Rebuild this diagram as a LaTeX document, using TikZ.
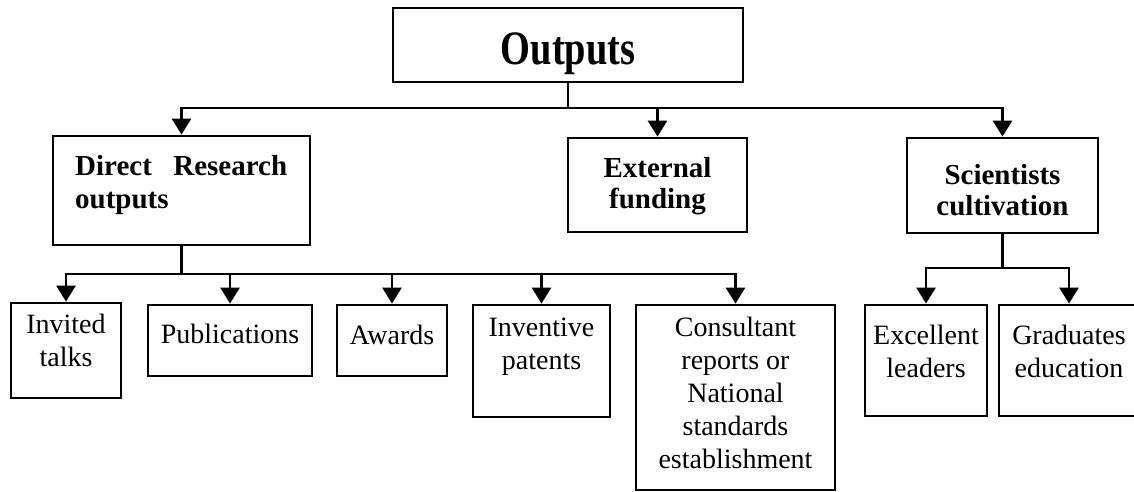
\documentclass[tikz,border=0pt]{standalone}
\usepackage{fontspec}
\setmainfont{Liberation Serif}
\newfontfamily\narrowserif[FakeStretch=0.8]{Liberation Serif}
\usetikzlibrary{arrows.meta}

\tikzset{
  box/.style={draw, line width=2.8pt, inner sep=0pt},
  link/.style={line width=2.8pt},
  arrowlink/.style={line width=2.8pt, -{Triangle[width=19pt,length=16pt]}},
  plaintext/.style={inner sep=0pt, align=center, font=\fontsize{28}{33}\selectfont},
  headtext/.style={inner sep=0pt, align=center, font=\fontsize{29}{31}\selectfont\bfseries},
}

\begin{document}
\begin{tikzpicture}[x=1pt, y=-1pt]
  \useasboundingbox (0,0) rectangle (1134,492);
  \clip (0,0) rectangle (1134,492);

  % top level
  \node[box, minimum width=350pt, minimum height=74pt] (out) at (568,45) {};
  \node[inner sep=0pt, anchor=base, font=\fontsize{48}{52}\narrowserif\bfseries] (out-t) at (568,65) {Outputs};

  % second level
  \node[box, minimum width=257pt, minimum height=109pt] (dir) at (181.5,190.5) {};
  \node[inner sep=0pt, anchor=north west, text width=212pt, align=left,
        font=\fontsize{29}{33}\selectfont\bfseries] (dir-t) at (75,155) {Direct\hfill Research\\outputs};

  \node[box, minimum width=179pt, minimum height=94pt] (ext) at (657.5,185) {};
  \node[headtext, anchor=north] (ext-t) at (657.5,157) {External\\funding};

  \node[box, minimum width=191pt, minimum height=95pt] (sci) at (1002.5,185.5) {};
  \node[headtext, anchor=north] (sci-t) at (1002.5,164) {Scientists\\cultivation};

  % third level under the research outputs
  \node[box, minimum width=110pt, minimum height=95pt] (inv) at (66,350.5) {};
  \node[plaintext, anchor=north] (inv-t) at (66,314) {Invited\\talks};

  \node[box, minimum width=164pt, minimum height=71pt] (pub) at (230,340.5) {};
  \node[plaintext, anchor=north] (pub-t) at (230,324) {Publications};

  \node[box, minimum width=110pt, minimum height=71pt] (awd) at (392,340.5) {};
  \node[plaintext, anchor=north] (awd-t) at (392,325) {Awards};

  \node[box, minimum width=137pt, minimum height=112pt] (pat) at (541.5,361) {};
  \node[plaintext, anchor=north] (pat-t) at (541.5,318) {Inventive\\patents};

  \node[box, minimum width=199pt, minimum height=185pt] (con) at (735.5,397.5) {};
  \node[plaintext, anchor=north] (con-t) at (735.5,317)
       {Consultant\\reports or\\National\\standards\\establishment};

  % third level under scientists cultivation
  \node[box, minimum width=122pt, minimum height=111pt] (exl) at (926,360.5) {};
  \node[plaintext, anchor=north] (exl-t) at (926,325) {Excellent\\leaders};

  \node[box, minimum width=140pt, minimum height=111pt] (grd) at (1069,360.5) {};
  \node[plaintext, anchor=north] (grd-t) at (1069,325) {Graduates\\education};

  % connectors
  \coordinate (bus1) at (568,108);
  \draw[link] (out.south) -- (bus1);
  \draw[arrowlink] (bus1) -| (dir.north);
  \draw[arrowlink] (bus1) -| (ext.north);
  \draw[arrowlink] (bus1) -| (sci.north);

  \coordinate (bus2) at (181.5,274);
  \draw[link] (dir.south) -- (bus2);
  \draw[arrowlink] (bus2) -| (inv.north);
  \draw[arrowlink] (bus2) -| (pub.north);
  \draw[arrowlink] (bus2) -| (awd.north);
  \draw[arrowlink] (bus2) -| (pat.north);
  \draw[arrowlink] (bus2) -| (con.north);

  \coordinate (bus3) at (1002.5,268);
  \draw[link] (sci.south) -- (bus3);
  \draw[arrowlink] (bus3) -| (exl.north);
  \draw[arrowlink] (bus3) -| (grd.north);
\end{tikzpicture}
\end{document}
